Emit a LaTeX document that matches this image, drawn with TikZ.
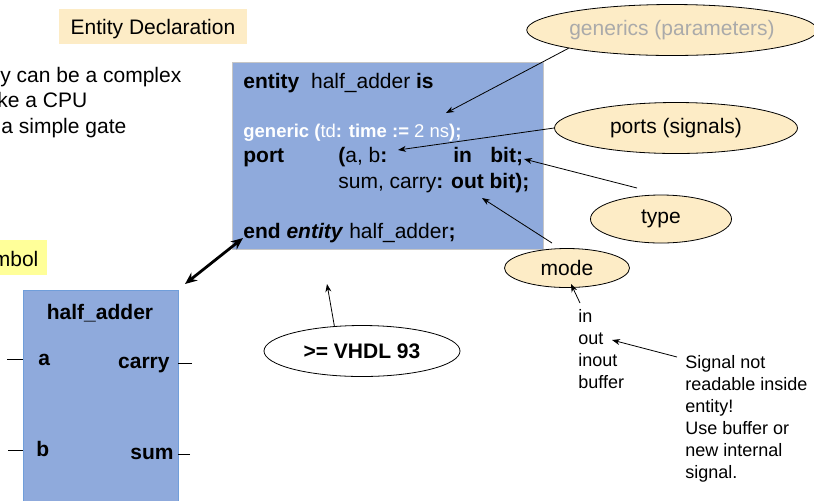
\documentclass[tikz,border=0pt]{standalone}
\usepackage{fontspec}
\setmainfont{Liberation Sans}
\usetikzlibrary{shapes.geometric,arrows.meta}
\definecolor{boxblue}{RGB}{143,170,220}
\definecolor{edgeblue}{RGB}{112,158,218}
\definecolor{notebeige}{RGB}{253,236,198}
\definecolor{symyellow}{RGB}{255,255,153}
\definecolor{paramgray}{RGB}{170,170,170}

\begin{document}
\begin{tikzpicture}[x=0.5pt, y=-0.5pt,
   txt/.style={inner sep=0pt, anchor=base west, font=\fontsize{10.5}{12.6}\selectfont},
   sml/.style={inner sep=0pt, anchor=base west, font=\fontsize{9}{11}\selectfont, align=left},
   bubble/.style={ellipse, draw=black, fill=notebeige, inner sep=0pt, font=\fontsize{10.5}{12.6}\selectfont},
   ptr/.style={-{Stealth[length=4pt, width=3pt]}, thin}]
      \useasboundingbox (0,0) rectangle (814,500);
      \clip (0,0) rectangle (814,500);

      % title and the cut-off text on the left
      \node[fill=notebeige, minimum width=94pt, minimum height=17.5pt, inner sep=0pt, text depth=0pt,
            font=\fontsize{10.5}{12.6}\selectfont, name=title] at (153,26.5) {Entity Declaration};
      \node[txt, name=l1] at (0,82) {y can be a complex};
      \node[txt, name=l2] at (-3,107) {ke a CPU};
      \node[txt, name=l3] at (1,133) {a simple gate};
      \fill[symyellow] (-10,240) rectangle (47,275);
      \node[txt, name=symtitle] at (-7.5,266) {mbol};

      % entity declaration
      \node[draw=gray!45, fill=boxblue, minimum width=155.5pt, minimum height=93.5pt, name=ent] at (387.5,155.5) {};
      \node[txt, name=e1] at (243,88) {\textbf{entity}\ \ half\_adder \textbf{is}};
      \node[txt, font=\fontsize{9.25}{11}\selectfont, text=white, name=e2] at (243,137)
            {\textbf{generic (}td\textbf{: time :=} 2 ns\textbf{);}};
      \node[txt, name=e3] at (243,162) {\textbf{port}};
      \node[txt, name=ab] at (338,162) {\textbf{(}a, b\textbf{:}};
      \node[txt, name=in] at (453,162) {\textbf{in}};
      \node[txt, name=bit] at (490,162) {\textbf{bit;}};
      \node[txt, name=e4] at (338,188) {sum, carry\textbf{: out bit);}};
      \node[txt, name=e5] at (243,238) {\textbf{end \textit{entity}} half\_adder\textbf{;}};

      % symbol
      \node[draw=edgeblue, fill=boxblue, minimum width=77.5pt, minimum height=110pt, name=sym] at (100.5,400) {};
      \node[txt, anchor=base, font=\fontsize{10.5}{12.6}\selectfont\bfseries, name=symname] at (100,319) {half\_adder};
      \node[txt, font=\fontsize{10.5}{12.6}\selectfont\bfseries, name=pa] at (38,365) {a};
      \node[txt, anchor=base east, font=\fontsize{10.5}{12.6}\selectfont\bfseries, name=pcarry] at (170,368) {carry};
      \node[txt, font=\fontsize{10.5}{12.6}\selectfont\bfseries, name=pb] at (36,456) {b};
      \node[txt, anchor=base east, font=\fontsize{10.5}{12.6}\selectfont\bfseries, name=psum] at (174,459) {sum};
      \coordinate (wa) at (7,359);
      \coordinate (wcarry) at (192,363);
      \coordinate (wb) at (8,450);
      \coordinate (wsum) at (190,454);

      % bubbles
      \node[bubble, text=paramgray, minimum width=129.5pt, minimum height=25.5pt, name=gen] at (672,30) {generics (parameters)};
      \node[bubble, minimum width=121.5pt, minimum height=25.5pt, name=ports] at (676,128) {ports (signals)};
      \node[bubble, minimum width=70.5pt, minimum height=24pt, name=type] at (661,219) {type};
      \node[bubble, minimum width=62.5pt, minimum height=19.5pt, name=mode] at (567,268) {mode};
      \node[bubble, fill=white, font=\fontsize{10.5}{12.6}\selectfont\bfseries, minimum width=98pt, minimum height=25.5pt, name=vhdl] at (362,351) {>= VHDL 93};

      % base of a multi-line node is its last line
      \node[sml, name=modes] at (578,388) {in\\out\\inout\\buffer};
      \node[sml, name=note] at (685,478) {Signal not\\readable inside\\entity!\\Use buffer or\\new internal\\signal.};

      \coordinate (gentip) at (446,113);
      \coordinate (porttip) at (398,150);
      \coordinate (typefrom) at (637,188);
      \coordinate (typetip) at (524,159);
      \coordinate (modefrom) at (552,243);
      \coordinate (modetip) at (482,198);
      \coordinate (listfrom) at (580,303);
      \coordinate (listtip) at (571,284);
      \coordinate (vhdltip) at (327,284);
      \coordinate (notefrom) at (677,357);
      \coordinate (notetip) at (612,340);
      \coordinate (linka) at (243,238);
      \coordinate (linkb) at (185,284);

      \path[-]
         (wa) edge (wa -| sym.west)
         (wb) edge (wb -| sym.west)
         (wcarry) edge (wcarry -| sym.east)
         (wsum) edge (wsum -| sym.east);
      \path[ptr]
         (gen.190) edge (gentip)
         (ports.west) edge (porttip)
         (typefrom) edge (typetip)
         (modefrom) edge (modetip)
         (listfrom) edge (listtip)
         (vhdl.138) edge (vhdltip)
         (notefrom) edge (notetip);
      \path[{Stealth[length=6pt, width=5pt]}-{Stealth[length=6pt, width=5pt]}, line width=1.4pt]
         (linka) edge (linkb);
   \end{tikzpicture}
\end{document}
